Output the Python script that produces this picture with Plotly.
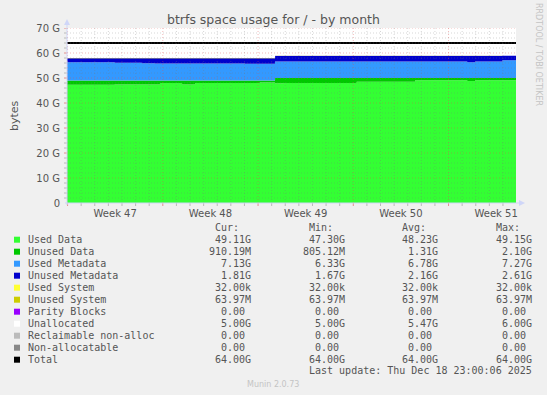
import plotly.graph_objects as go
import pandas as pd

# ---------------- data (values in GB) ----------------
times = [
    "2025-11-15 23:00", "2025-11-19 11:00", "2025-11-21 11:00", "2025-11-22 10:00",
    "2025-11-22 19:00", "2025-11-24 10:00", "2025-11-25 09:00", "2025-11-29 01:00",
    "2025-11-30 03:00", "2025-12-01 06:00", "2025-12-01 22:00", "2025-12-07 06:00",
    "2025-12-11 13:00", "2025-12-15 09:00", "2025-12-15 23:00", "2025-12-17 23:00",
    "2025-12-18 23:00",
]
used_data = [47.30, 47.40, 47.40, 47.40, 48.00, 47.40, 48.00, 48.00, 48.20,
             47.90, 48.05, 48.55, 49.10, 48.80, 49.15, 49.11, 49.11]
unused_data = [1.70, 1.60, 1.60, 1.60, 1.00, 1.60, 1.00, 1.00, 0.80,
               2.10, 1.95, 1.45, 0.90, 1.20, 0.85, 0.91, 0.91]
used_meta = [7.27, 7.15, 6.95, 6.85, 6.85, 6.85, 6.85, 6.70, 6.70,
             6.60, 6.60, 6.60, 6.60, 6.33, 6.65, 7.13, 7.13]
unused_meta = [1.67, 1.79, 1.99, 2.09, 2.09, 2.09, 2.09, 2.24, 2.24,
               2.34, 2.34, 2.34, 2.34, 2.61, 2.29, 1.81, 1.81]
used_system = [0.000032] * 17
unused_system = [0.06397] * 17
parity = [0.0] * 17
unallocated = [6.0, 6.0, 6.0, 6.0, 6.0, 6.0, 6.0, 6.0, 6.0,
               5.0, 5.0, 5.0, 5.0, 5.0, 5.0, 5.0, 5.0]
reclaimable = [0.0] * 17
nonalloc = [0.0] * 17
total = [64.0] * 17

series_names = ["Used Data", "Unused Data", "Used Metadata", "Unused Metadata",
                "Used System", "Unused System", "Parity Blocks", "Unallocated",
                "Reclaimable non-alloc", "Non-allocatable", "Total"]
series_colors = ["#33ff33", "#00c800", "#3399ff", "#0000cc", "#ffff33", "#cccc00",
                 "#9900ff", "#ffffff", "#bbbbbb", "#888888", "#000000"]

cur_vals = ["49.11G", "910.19M", "7.13G", "1.81G", "32.00k", "63.97M", "0.00 ", "5.00G", "0.00 ", "0.00 ", "64.00G"]
min_vals = ["47.30G", "805.12M", "6.33G", "1.67G", "32.00k", "63.97M", "0.00 ", "5.00G", "0.00 ", "0.00 ", "64.00G"]
avg_vals = ["48.23G", "1.31G", "6.78G", "2.16G", "32.00k", "63.97M", "0.00 ", "5.47G", "0.00 ", "0.00 ", "64.00G"]
max_vals = ["49.15G", "2.10G", "7.27G", "2.61G", "32.00k", "63.97M", "0.00 ", "6.00G", "0.00 ", "0.00 ", "64.00G"]

week_ticks = ["2025-11-19 12:00", "2025-11-26 12:00", "2025-12-03 12:00",
              "2025-12-10 12:00", "2025-12-17 12:00"]
week_labels = ["Week 47", "Week 48", "Week 49", "Week 50", "Week 51"]
y_ticks = [0, 10, 20, 30, 40, 50, 60, 70]
y_labels = ["0", "10 G", "20 G", "30 G", "40 G", "50 G", "60 G", "70 G"]

# ---------------- layout helpers ----------------
W, H = 547, 395
L, R, T, B = 67, 516, 28, 203
def px(x):
    return (x - L) / (R - L)
def py(y):
    return (B - y) / (B - T)

FONT = "DejaVu Sans"
MONO = "DejaVu Sans Mono"
TXT = "#555555"
AXIS = "#CFD6F8"
GRID = "rgba(120,120,120,0.3)"
MGRID = "rgba(222,79,79,0.4)"
GRID_T = "rgba(120,120,120,0.45)"
MGRID_T = "rgba(222,79,79,0.6)"

fig = go.Figure()
stack = [used_data, unused_data, used_meta, unused_meta, used_system,
         unused_system, parity, unallocated, reclaimable, nonalloc]
for name, vals, col in zip(series_names[:10], stack, series_colors[:10]):
    fig.add_trace(go.Scatter(x=times, y=vals, name=name, stackgroup="s", mode="lines",
                             line=dict(width=0, shape="hv", color=col), fillcolor=col,
                             hoverinfo="skip", showlegend=False))
fig.add_trace(go.Scatter(x=times, y=total, name="Total", mode="lines",
                         line=dict(color="#000000", width=2, shape="hv"),
                         hoverinfo="skip", showlegend=False))

shapes = []
# vertical grid (daily minor, weekly major on Sundays)
for d in pd.date_range("2025-11-16", "2025-12-18", freq="D"):
    major = d.dayofweek == 6
    shapes.append(dict(type="line", xref="x", yref="paper", x0=d, x1=d, y0=0, y1=1,
                       line=dict(color=MGRID if major else GRID, width=1, dash="1px,2px"),
                       layer="above"))
    shapes.append(dict(type="line", xref="x", yref="paper", x0=d, x1=d, y0=0, y1=py(B + 3),
                       line=dict(color=MGRID_T if major else GRID_T, width=1), layer="above"))
# horizontal grid (2G minor, 10G major)
for v in range(2, 71, 2):
    major = v % 10 == 0
    shapes.append(dict(type="line", xref="paper", yref="y", x0=0, x1=1, y0=v, y1=v,
                       line=dict(color=MGRID if major else GRID, width=1, dash="1px,2px"),
                       layer="above"))
    shapes.append(dict(type="line", xref="paper", yref="y", x0=px(L - 3), x1=0, y0=v, y1=v,
                       line=dict(color=MGRID_T if major else GRID_T, width=1), layer="above"))
# axes with arrows
shapes.append(dict(type="line", xref="paper", yref="paper", x0=px(L - 2), x1=px(R + 5),
                   y0=0, y1=0, line=dict(color=AXIS, width=1), layer="above"))
shapes.append(dict(type="line", xref="paper", yref="paper", x0=0, x1=0,
                   y0=py(B + 2), y1=py(T - 5), line=dict(color=AXIS, width=1), layer="above"))
shapes.append(dict(type="path", xref="paper", yref="paper",
                   path=f"M {px(R+3)},{py(B-3)} L {px(R+9)},{py(B)} L {px(R+3)},{py(B+3)} Z",
                   fillcolor=AXIS, line=dict(width=0), layer="above"))
shapes.append(dict(type="path", xref="paper", yref="paper",
                   path=f"M {px(L-3)},{py(T-3)} L {px(L)},{py(T-9)} L {px(L+3)},{py(T-3)} Z",
                   fillcolor=AXIS, line=dict(width=0), layer="above"))

annotations = []
annotations.append(dict(text="btrfs space usage for / - by month", x=px(273.5), y=py(20),
                        xref="paper", yref="paper", showarrow=False, xanchor="center",
                        yanchor="middle", font=dict(family=FONT, size=12.5, color=TXT)))
annotations.append(dict(text="bytes", x=px(14), y=py(116), xref="paper", yref="paper",
                        showarrow=False, textangle=-90, xanchor="center", yanchor="middle",
                        font=dict(family=FONT, size=11, color=TXT)))
annotations.append(dict(text="RRDTOOL / TOBI OETIKER", x=px(539), y=py(54), xref="paper",
                        yref="paper", showarrow=False, textangle=90, xanchor="center",
                        yanchor="middle", font=dict(family=FONT, size=8, color="#c4c4c4")))

row0, dy = 239.7, 12
col_right = [251.7, 345.7, 439.0, 532.7]
headers = ["Cur:", "Min:", "Avg:", "Max:"]
for h, xr in zip(headers, col_right):
    annotations.append(dict(text=h + "\u00a0\u00a0", x=px(xr), y=py(row0 - dy),
                            xref="paper", yref="paper", showarrow=False, xanchor="right",
                            yanchor="middle", borderpad=0,
                            font=dict(family=MONO, size=10, color=TXT)))
for i, name in enumerate(series_names):
    yc = row0 + i * dy
    shapes.append(dict(type="rect", xref="paper", yref="paper", x0=px(14), x1=px(20),
                       y0=py(yc + 3), y1=py(yc - 3), fillcolor=series_colors[i],
                       line=dict(width=0), layer="above"))
    annotations.append(dict(text=name, x=px(26.5), y=py(yc), xref="paper", yref="paper",
                            showarrow=False, xanchor="left", yanchor="middle", borderpad=0,
                            font=dict(family=MONO, size=10, color=TXT)))
    for vals, xr in zip([cur_vals, min_vals, avg_vals, max_vals], col_right):
        annotations.append(dict(text=vals[i].replace(" ", "\u00a0"), x=px(xr), y=py(yc),
                                xref="paper", yref="paper", showarrow=False, xanchor="right",
                                yanchor="middle", borderpad=0,
                                font=dict(family=MONO, size=10, color=TXT)))
annotations.append(dict(text="Last update: Thu Dec 18 23:00:06 2025".replace(" ", "\u00a0"),
                        x=px(532.7), y=py(row0 + 11 * dy - 1), xref="paper", yref="paper",
                        showarrow=False, xanchor="right", yanchor="middle", borderpad=0,
                        font=dict(family=MONO, size=10, color=TXT)))
annotations.append(dict(text="Munin 2.0.73", x=px(273), y=py(384), xref="paper", yref="paper",
                        showarrow=False, xanchor="center", yanchor="middle",
                        font=dict(family=FONT, size=8, color="#c4c4c4")))

fig.update_layout(
    width=W, height=H, autosize=False,
    margin=dict(l=L, r=W - R, t=T, b=H - B, pad=0),
    paper_bgcolor="#f0f0f0", plot_bgcolor="#ffffff",
    showlegend=False, hovermode=False,
    shapes=shapes, annotations=annotations,
    xaxis=dict(type="date", range=[times[0], times[-1]], tickmode="array",
               tickvals=week_ticks, ticktext=week_labels, showgrid=False, zeroline=False,
               showline=False, ticks="outside", ticklen=1, tickcolor="rgba(0,0,0,0)",
               tickfont=dict(family=FONT, size=10, color=TXT), fixedrange=True),
    yaxis=dict(range=[0, 70], tickmode="array", tickvals=y_ticks, ticktext=y_labels,
               showgrid=False, zeroline=False, showline=False, ticks="outside", ticklen=4,
               tickcolor="rgba(0,0,0,0)", tickfont=dict(family=FONT, size=10, color=TXT),
               fixedrange=True),
)

fig.write_html("out.html", config={"displayModeBar": False},
               post_script="document.body.style.margin='0';document.body.style.background='#f0f0f0';")
